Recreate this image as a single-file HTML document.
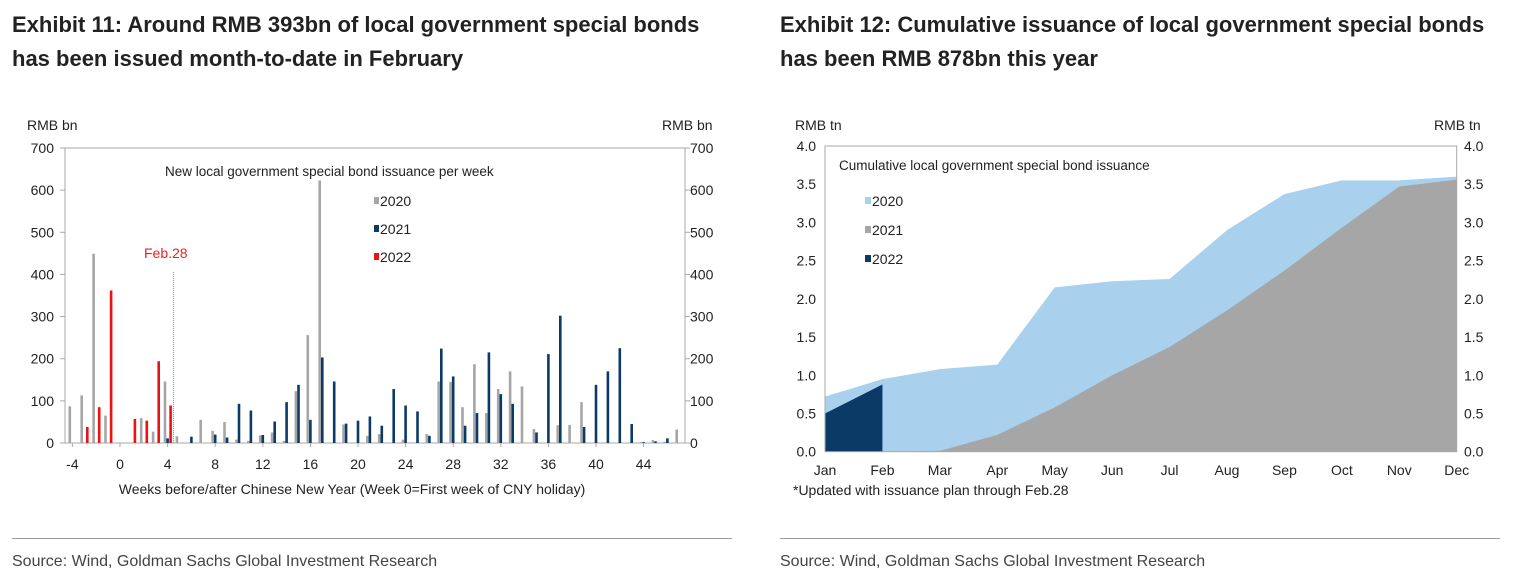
<!DOCTYPE html>
<html><head><meta charset="utf-8"><style>
body{margin:0;width:1517px;height:587px;background:#fff;font-family:"Liberation Sans",sans-serif;overflow:hidden;position:relative}
.t{position:absolute;font-family:"Liberation Sans Narrow","Liberation Sans",sans-serif;font-weight:bold;font-size:22px;line-height:34px;color:#222}
.src{position:absolute;font-family:"Liberation Sans Narrow","Liberation Sans",sans-serif;font-size:16px;color:#444;top:553px}
.rule{position:absolute;top:538px;height:1px;background:#999}
svg{position:absolute;left:0;top:0}
</style></head><body>
<div class="t" style="left:12px;top:8px">Exhibit 11: Around RMB 393bn of local government special bonds<br>has been issued month-to-date in February</div>
<div class="t" style="left:780px;top:8px">Exhibit 12: Cumulative issuance of local government special bonds<br>has been RMB 878bn this year</div>
<div class="rule" style="left:12px;width:720px"></div>
<div class="rule" style="left:780px;width:720px"></div>
<div class="src" style="left:12px">Source: Wind, Goldman Sachs Global Investment Research</div>
<div class="src" style="left:780px">Source: Wind, Goldman Sachs Global Investment Research</div>
<svg id="c" width="1517" height="587"></svg>
<script>
// Left chart data (week -> value)
const weeks2020=[-4,-3,-2,-1,2,3,4,5,7,8,9,10,11,12,13,14,15,16,17,19,21,22,24,26,27,28,29,30,31,32,33,34,35,37,38,39,44,45,46,47];
const vals2020=[87,113,449,65,59,27,146,16,55,29,50,8,5,18,25,5,123,256,623,44,17,21,8,21,146,145,85,187,71,128,170,134,33,42,43,97,2,7,3,32];
const weeks2021=[4,6,8,9,10,11,12,13,14,15,16,17,18,19,20,21,22,23,24,25,26,27,28,29,30,31,32,33,35,36,37,39,40,41,42,43,44,45,46];
const vals2021=[11,15,20,13,93,77,19,51,97,138,55,203,146,46,53,63,41,128,89,75,17,224,158,41,71,215,116,93,25,211,302,38,138,170,225,45,2,4,11];
const weeks2022=[-3,-2,-1,1,2,3,4];
const vals2022=[38,85,362,57,53,194,89];
const leftTicksY=[0,100,200,300,400,500,600,700];
const leftTicksX=[-4,0,4,8,12,16,20,24,28,32,36,40,44];
// Right chart data
const months=["Jan","Feb","Mar","Apr","May","Jun","Jul","Aug","Sep","Oct","Nov","Dec"];
const cum2020=[0.72,0.95,1.08,1.14,2.15,2.23,2.26,2.9,3.37,3.55,3.55,3.6];
const cum2021=[0,0,0.01,0.22,0.58,1.0,1.37,1.85,2.37,2.93,3.47,3.56];
const cum2022=[0.5,0.88];
const rightTicksY=[0,0.5,1,1.5,2,2.5,3,3.5,4];

const svg=document.getElementById('c');const NS='http://www.w3.org/2000/svg';
function el(t,a,txt){const e=document.createElementNS(NS,t);for(const k in a)e.setAttribute(k,a[k]);if(txt!=null)e.textContent=txt;svg.appendChild(e);return e;}
// Left axes
const lx=w=>120+w*11.9, ly=v=>443-v*295/700;
let e=el('rect',{x:65,y:148,width:620,height:295,fill:'none',stroke:'#aaa','stroke-width':1});

leftTicksY.forEach(v=>{
 e=el('text',{x:54,y:ly(v)+5,'text-anchor':'end','font-size':14,fill:'#222'},v);
 
 e=el('text',{x:690,y:ly(v)+5,'font-size':14,fill:'#222'},v);
 
 el('line',{x1:60,x2:65,y1:ly(v),y2:ly(v),stroke:'#aaa'});el('line',{x1:685,x2:690,y1:ly(v),y2:ly(v),stroke:'#aaa'});
});
leftTicksX.forEach(w=>{
 e=el('text',{x:lx(w),y:469,'text-anchor':'middle','font-size':14,fill:'#222'},w);
 
 el('line',{x1:lx(w),x2:lx(w),y1:443,y2:447,stroke:'#aaa'});
});
function bars(ws,vs,off,col,name){ws.forEach((w,i)=>{const b=el('rect',{x:lx(w)+off-1.3,y:ly(vs[i]),width:2.6,height:443-ly(vs[i]),fill:col});
 });}
bars(weeks2020,vals2020,-2.6,'#a6a6a6','bar-2020');
bars(weeks2021,vals2021,0,'#0c3a66','bar-2021');
bars(weeks2022,vals2022,3,'#ee1111','bar-2022');
e=el('line',{x1:lx(4.5),x2:lx(4.5),y1:ly(406),y2:443,stroke:'#888','stroke-dasharray':'1,1'});

e=el('text',{x:144,y:258,'font-size':14,fill:'#ee2222'},'Feb.28');
e=el('text',{x:165,y:176,'font-size':13.5,fill:'#222'},'New local government special bond issuance per week');
[['2020','#a6a6a6',206],['2021','#0c3a66',234],['2022','#ee1111',262]].forEach(([t,c,y])=>{
 e=el('rect',{x:374,y:y-9,width:5,height:7,fill:c});
 e=el('text',{x:380,y:y,'font-size':14,fill:'#222'},t);});
e=el('text',{x:27,y:130,'font-size':14,fill:'#222'},'RMB bn');
e=el('text',{x:662,y:130,'font-size':14,fill:'#222'},'RMB bn');
e=el('text',{x:352,y:494,'text-anchor':'middle','font-size':14,fill:'#222'},'Weeks before/after Chinese New Year (Week 0=First week of CNY holiday)');
// Right chart
const rx=i=>825+i*631.7/11, ry=v=>451.7-v*305.7/4;
function area(vals,col,name){let d='M'+rx(0)+','+ry(0);vals.forEach((v,i)=>d+=' L'+rx(i)+','+ry(v));d+=' L'+rx(vals.length-1)+','+ry(0)+' Z';
 const p=el('path',{d:d,fill:col});}
area(cum2020,'#a9d1ee','area-2020');area(cum2021,'#a6a6a6','area-2021');area(cum2022,'#0c3a66','area-2022');
e=el('rect',{x:825,y:146,width:631.7,height:305.7,fill:'none',stroke:'#aaa'});
rightTicksY.forEach(v=>{
 e=el('text',{x:816,y:ry(v)+5,'text-anchor':'end','font-size':14,fill:'#222'},v.toFixed(1));
 e=el('text',{x:1464,y:ry(v)+5,'font-size':14,fill:'#222'},v.toFixed(1));
});
months.forEach((m,i)=>{e=el('text',{x:rx(i),y:475,'text-anchor':'middle','font-size':14,fill:'#222'},m);});
e=el('text',{x:839,y:170,'font-size':13.5,fill:'#222'},'Cumulative local government special bond issuance');
[['2020','#a9d1ee',206],['2021','#a6a6a6',235],['2022','#0c3a66',264]].forEach(([t,c,y])=>{
 e=el('rect',{x:865,y:y-9,width:6,height:7,fill:c});
 e=el('text',{x:872,y:y,'font-size':14,fill:'#222'},t);});
e=el('text',{x:795,y:130,'font-size':14,fill:'#222'},'RMB tn');
e=el('text',{x:1434,y:130,'font-size':14,fill:'#222'},'RMB tn');
e=el('text',{x:793,y:495,'font-size':14,fill:'#222'},'*Updated with issuance plan through Feb.28');
</script></body></html>
